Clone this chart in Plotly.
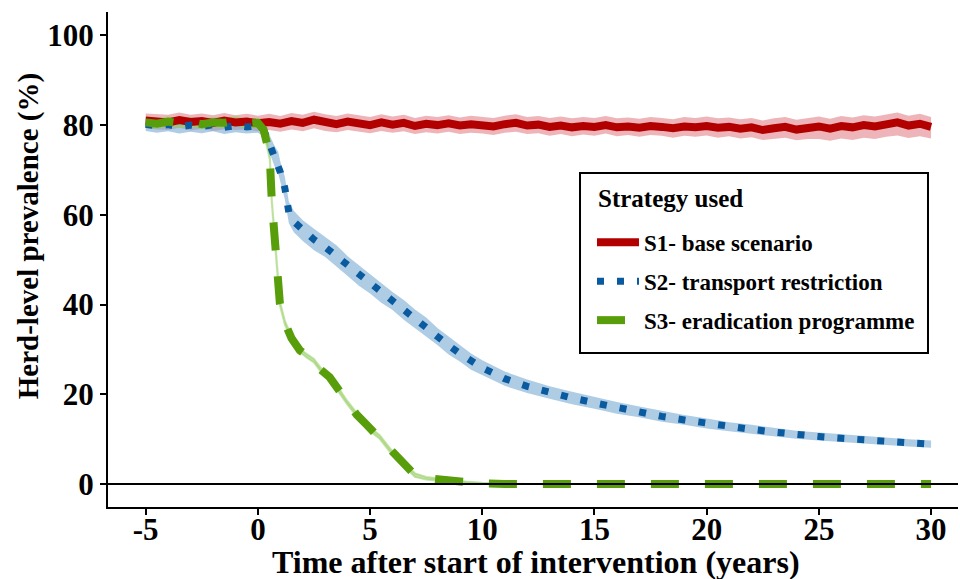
import plotly.graph_objects as go

# ---------------- data ----------------
s1_time = [-5.0, -4.5, -4.0, -3.5, -3.0, -2.5, -2.0, -1.5, -1.0, -0.5, 0.0,
           0.5, 1.0, 1.5, 2.0, 2.5, 3.0, 3.5, 4.0, 4.5, 5.0, 5.5, 6.0, 6.5, 7.0, 7.5, 8.0, 8.5, 9.0, 9.5, 10.0,
           10.5, 11.0, 11.5, 12.0, 12.5, 13.0, 13.5, 14.0, 14.5, 15.0, 15.5, 16.0, 16.5, 17.0, 17.5, 18.0, 18.5, 19.0, 19.5, 20.0,
           20.5, 21.0, 21.5, 22.0, 22.5, 23.0, 23.5, 24.0, 24.5, 25.0, 25.5, 26.0, 26.5, 27.0, 27.5, 28.0, 28.5, 29.0, 29.5, 30.0]
s1_mean = [81.0, 80.8, 80.6, 81.1, 80.7, 80.9, 80.5, 81.0, 80.6, 80.8, 80.4,
           80.7, 80.3, 80.9, 80.5, 81.2, 80.6, 80.2, 80.8, 80.4, 80.0, 80.6, 80.1, 80.5, 79.8, 80.3, 80.0, 80.4, 79.9, 80.2, 80.0,
           79.7, 80.2, 80.5, 79.9, 80.1, 79.6, 79.9, 79.5, 79.8, 79.6, 80.0, 79.5, 79.7, 79.4, 79.8, 79.6, 79.3, 79.7, 79.5, 79.8,
           79.4, 79.6, 79.2, 79.5, 78.9, 79.3, 79.6, 79.0, 79.4, 79.7, 79.2, 79.8, 79.5, 80.0, 79.7, 80.2, 80.6, 79.9, 80.3, 79.6]
s1_low = [79.3, 79.0, 78.9, 79.4, 78.8, 79.2, 78.7, 79.1, 78.9, 79.0, 78.6,
          78.9, 78.5, 79.0, 78.6, 79.3, 78.7, 78.4, 78.9, 78.5, 78.2, 78.7, 78.3, 78.6, 78.0, 78.4, 78.1, 78.5, 78.0, 78.3, 78.1,
          77.8, 78.3, 78.5, 78.0, 78.2, 77.6, 78.0, 77.5, 77.9, 77.6, 78.1, 77.5, 77.8, 77.4, 77.8, 77.6, 77.2, 77.6, 77.4, 77.7,
          77.2, 77.5, 77.0, 77.3, 76.7, 77.0, 77.2, 76.6, 76.9, 76.9, 76.5, 77.0, 76.7, 77.2, 76.9, 77.4, 77.7, 77.1, 77.5, 77.0]
s1_high = [82.6, 82.5, 82.3, 82.8, 82.3, 82.6, 82.2, 82.7, 82.2, 82.5, 82.1,
           82.5, 82.0, 82.7, 82.3, 83.0, 82.4, 82.0, 82.6, 82.2, 81.8, 82.4, 81.9, 82.3, 81.6, 82.1, 81.8, 82.2, 81.7, 82.1, 81.9,
           81.6, 82.1, 82.4, 81.8, 82.0, 81.6, 81.9, 81.5, 81.8, 81.6, 82.0, 81.5, 81.7, 81.4, 81.8, 81.6, 81.3, 81.8, 81.6, 81.9,
           81.5, 81.7, 81.3, 81.6, 81.0, 81.5, 81.8, 81.2, 81.6, 81.9, 81.4, 82.0, 81.7, 82.2, 81.9, 82.4, 82.8, 82.1, 82.5, 81.8]

s2_time = [-5.0, -4.5, -4.0, -3.5, -3.0, -2.5, -2.0, -1.5, -1.0, -0.5, 0.0,
           0.25, 0.5, 0.75, 0.9, 1.0, 1.2, 1.38, 1.6, 2.0, 2.5, 3.0, 3.5, 4.0, 4.5, 5.0, 5.5, 6.0, 6.5, 7.0, 7.5,
           8.0, 8.5, 9.0, 9.5, 10.0, 10.5, 11.0, 12.0, 13.0, 14.0, 15.0, 16.0, 17.0, 18.0, 19.0, 20.0,
           21.0, 22.0, 23.0, 24.0, 25.0, 26.0, 27.0, 28.0, 29.0, 30.0]
s2_mean = [80.2, 79.8, 80.1, 79.6, 80.0, 79.7, 80.1, 79.5, 79.9, 79.6, 79.8,
           79.0, 76.0, 73.0, 71.7, 69.5, 66.0, 60.5, 58.5, 56.5, 54.5, 52.8, 50.8, 48.6, 46.5, 44.6, 42.6, 40.8, 38.8, 36.9, 35.0,
           32.9, 30.9, 29.1, 27.3, 25.9, 24.7, 23.5, 21.8, 20.4, 19.2, 18.1, 17.0, 16.1, 15.1, 14.3, 13.5,
           12.8, 12.2, 11.6, 11.0, 10.6, 10.2, 9.9, 9.5, 9.2, 8.9]
s2_spread = [1.5, 1.5, 1.5, 1.5, 1.5, 1.5, 1.5, 1.5, 1.5, 1.5, 1.5,
             1.5, 2.0, 2.3, 2.4, 2.4, 2.5, 2.4, 2.4, 2.3, 2.4, 2.2, 2.4, 2.2, 2.3, 2.1, 2.2, 2.0, 2.2, 2.0, 2.1,
             1.9, 2.0, 1.8, 1.8, 1.7, 1.6, 1.6, 1.5, 1.4, 1.4, 1.3, 1.3, 1.2, 1.2, 1.1, 1.1,
             1.0, 1.0, 1.0, 0.9, 0.9, 0.9, 0.9, 0.8, 0.8, 0.8]

s3_time = [-5.0, -4.5, -4.0, -3.5, -3.0, -2.5, -2.0, -1.5, -1.0, -0.5, 0.0,
           0.25, 0.4, 0.53, 0.62, 0.72, 0.83, 0.98, 1.2, 1.5, 1.87, 2.2, 2.5, 2.8, 3.2, 3.6, 3.96, 4.4, 4.77,
           5.1, 5.43, 5.9, 6.3, 6.7, 7.0, 7.5, 8.2, 9.0, 9.4, 10.0, 11.0, 12.0, 14.0, 16.0, 18.0, 20.0,
           22.0, 24.0, 26.0, 28.0, 30.0]
s3_mean = [80.6, 80.3, 80.8, 80.4, 80.7, 80.2, 80.6, 80.5, 80.9, 80.3, 80.5,
           79.0, 76.0, 72.8, 63.0, 56.0, 50.0, 40.3, 36.0, 32.5, 29.8, 28.5, 27.5, 25.5, 23.8, 21.0, 18.3, 15.5, 13.6,
           11.8, 10.5, 7.5, 5.3, 3.5, 2.0, 1.3, 0.9, 0.5, 0.3, 0.15, 0.05, 0.0, 0.0, 0.0, 0.0, 0.0,
           0.0, 0.0, 0.0, 0.0, 0.0]
s3_low = [79.7, 79.4, 79.9, 79.5, 79.8, 79.3, 79.7, 79.6, 80.0, 79.4, 79.6,
          78.6, 75.6, 72.4, 62.6, 55.6, 49.6, 39.9, 35.6, 32.1, 29.4, 28.1, 27.1, 25.1, 23.4, 20.6, 17.9, 15.1, 13.2,
          11.4, 10.1, 7.1, 4.9, 3.1, 1.6, 1.0, 0.6, 0.3, 0.1, 0.0, 0.0, 0.0, 0.0, 0.0, 0.0, 0.0,
          0.0, 0.0, 0.0, 0.0, 0.0]
s3_high = [81.5, 81.2, 81.7, 81.3, 81.6, 81.1, 81.5, 81.4, 81.8, 81.2, 81.4,
           79.4, 76.4, 73.2, 63.4, 56.4, 50.4, 40.7, 36.4, 32.9, 30.2, 28.9, 27.9, 25.9, 24.2, 21.4, 18.7, 15.9, 14.0,
           12.2, 10.9, 7.9, 5.7, 3.9, 2.4, 1.6, 1.2, 0.7, 0.5, 0.3, 0.1, 0.0, 0.0, 0.0, 0.0, 0.0,
           0.0, 0.0, 0.0, 0.0, 0.0]

s2_low = [m - s for m, s in zip(s2_mean, s2_spread)]
s2_high = [m + s for m, s in zip(s2_mean, s2_spread)]

series_names = ["S1- base scenario", "S2- transport restriction", "S3- eradication programme"]
legend_title = "Strategy used"
x_title = "Time after start of intervention (years)"
y_title = "Herd-level prevalence (%)"
x_ticks = [-5, 0, 5, 10, 15, 20, 25, 30]
y_ticks = [0, 20, 40, 60, 80, 100]

# ---------------- styles ----------------
FONT = "Liberation Serif"
line_colors = ["rgb(178,0,0)", "rgb(10,90,160)", "rgb(88,158,10)"]
band_colors = ["rgba(215,90,100,0.45)", "rgba(120,170,210,0.6)", "rgba(150,205,100,0.55)"]
band_line_widths = [0, 0, 2]
line_dashes = ["solid", "7px,13px", "28px,26px"]
line_widths = [8, 7, 8]

fig = go.Figure()

bands = [(s1_time, s1_low, s1_high), (s2_time, s2_low, s2_high), (s3_time, s3_low, s3_high)]
for i, (t, lo, hi) in enumerate(bands):
    fig.add_trace(go.Scatter(x=t + t[::-1], y=hi + lo[::-1], fill="toself",
                             fillcolor=band_colors[i],
                             line=dict(color=band_colors[i], width=band_line_widths[i]),
                             hoverinfo="skip", showlegend=False))

means = [(s1_time, s1_mean), (s2_time, s2_mean), (s3_time, s3_mean)]
for i, (t, m) in enumerate(means):
    fig.add_trace(go.Scatter(x=t, y=m, mode="lines", name=series_names[i],
                             legendgroup=series_names[i],
                             line=dict(color=line_colors[i], width=line_widths[i], dash=line_dashes[i])))

fig.add_hline(y=0, line=dict(color="black", width=2), layer="above")

# legend frame
fig.add_shape(type="rect", xref="paper", yref="paper",
              x0=0.5553, x1=0.9647, y0=0.3111, y1=0.6747,
              line=dict(color="black", width=2), fillcolor="white", layer="above")

tick_font = dict(family=FONT, size=31, color="black", weight="bold")

fig.add_annotation(text=x_title, xref="paper", yref="paper", x=0.504, y=-0.111,
                   xanchor="center", yanchor="middle", showarrow=False,
                   font=dict(family=FONT, size=32, color="black", weight="bold"))
fig.add_annotation(text=y_title, xref="paper", yref="paper", x=-0.0941, y=0.547,
                   xanchor="center", yanchor="middle", showarrow=False, textangle=-90,
                   font=dict(family=FONT, size=29, color="black", weight="bold"))
fig.add_annotation(text=legend_title, xref="paper", yref="paper", x=0.5741, y=0.624,
                   xanchor="left", yanchor="middle", showarrow=False,
                   font=dict(family=FONT, size=25, color="black", weight="bold"))

fig.update_layout(
    width=960, height=579,
    margin=dict(l=108, r=2, t=12, b=72),
    paper_bgcolor="white", plot_bgcolor="white",
    font=dict(family=FONT, color="black"),
    showlegend=True,
    legend=dict(
        x=0.5694, y=0.578, xanchor="left", yanchor="top",
        bgcolor="rgba(0,0,0,0)", borderwidth=0, itemwidth=42,
        font=dict(family=FONT, size=23, color="black", weight="bold"),
        traceorder="grouped", tracegroupgap=6,
    ),
    xaxis=dict(
        range=[-6.68, 31.2], tickvals=x_ticks, ticktext=[str(v) for v in x_ticks],
        showgrid=False, zeroline=False, showline=True, linecolor="black", linewidth=2,
        ticks="outside", ticklen=6, tickwidth=2, tickcolor="black",
        tickfont=tick_font, ticklabelstandoff=-12,
    ),
    yaxis=dict(
        range=[-5.1, 105.2], tickvals=y_ticks, ticktext=[str(v) for v in y_ticks],
        showgrid=False, zeroline=False, showline=True, linecolor="black", linewidth=2,
        ticks="outside", ticklen=6, tickwidth=2, tickcolor="black",
        tickfont=tick_font,
    ),
)

fig.write_html("out.html")
